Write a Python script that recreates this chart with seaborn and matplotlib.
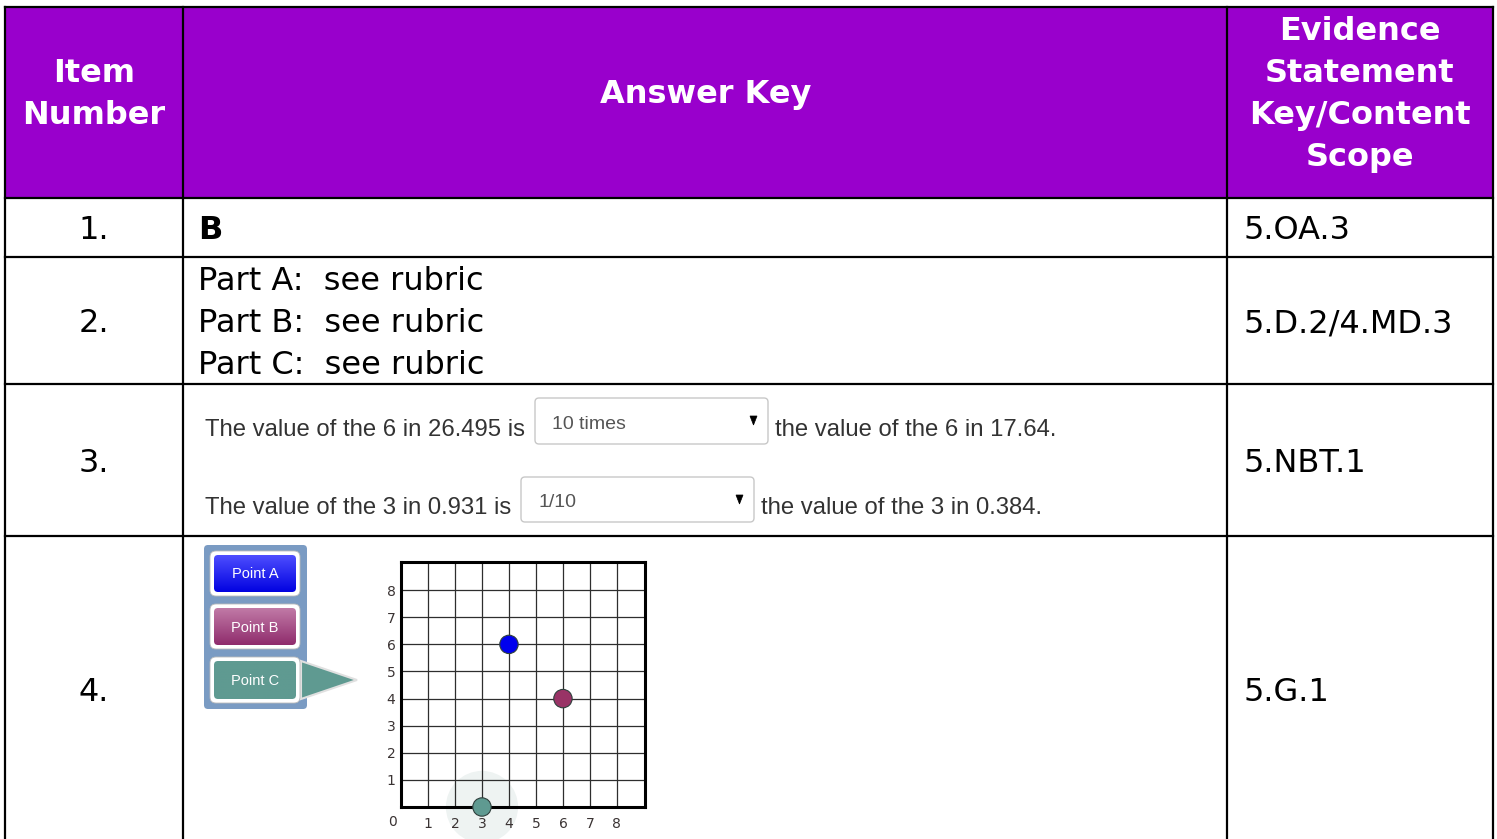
import numpy as np
import pandas as pd
import matplotlib
matplotlib.use("Agg")
import matplotlib.pyplot as plt
from matplotlib.patches import Rectangle, FancyBboxPatch, Polygon
import seaborn as sns

# ---------------- data ----------------
header_item = ["Item", "Number"]
header_answer = "Answer Key"
header_evidence = ["Evidence", "Statement", "Key/Content", "Scope"]
item_numbers = ["1.", "2.", "3.", "4."]
answer_row1 = "B"
answer_row2 = ["Part A:  see rubric", "Part B:  see rubric", "Part C:  see rubric"]
row3_left = ["The value of the 6 in 26.495 is", "The value of the 3 in 0.931 is"]
row3_choice = ["10 times", "1/10"]
row3_right = ["the value of the 6 in 17.64.", "the value of the 3 in 0.384."]
evidence = ["5.OA.3", "5.D.2/4.MD.3", "5.NBT.1", "5.G.1"]

point_labels = ["Point A", "Point B", "Point C"]
point_x = [4, 6, 3]
point_y = [6, 4, 0]
point_colors = ["#0000ee", "#993366", "#5f9a91"]
grid_ticks = [1, 2, 3, 4, 5, 6, 7, 8]

# ---------------- figure ----------------
sns.set_theme(style="white")
plt.rcParams["font.family"] = ["DejaVu Sans"]
W, H = 1497, 839
fig = plt.figure(figsize=(W / 100, H / 100), dpi=100)
ax = fig.add_axes([0, 0, 1, 1])
ax.set_xlim(0, W)
ax.set_ylim(H, 0)
ax.axis("off")

PURPLE = "#9900cc"
LW = 1.6
xL, xC1, xC2, xR = 5, 183, 1227, 1493
yT, yH, y1, y2, y3 = 7, 198, 257, 384, 536

ax.add_patch(Rectangle((xL, yT), xR - xL, yH - yT, facecolor=PURPLE, edgecolor="none", zorder=1))
for x in (xL, xC1, xC2, xR):
    ax.plot([x, x], [yT, H + 5], color="black", lw=LW, zorder=3, solid_capstyle="projecting")
for y in (yT, yH, y1, y2, y3):
    ax.plot([xL, xR], [y, y], color="black", lw=LW, zorder=3, solid_capstyle="projecting")

hfs = 23
for txt, yb in zip(header_item, [82, 124]):
    ax.text(94, yb, txt, ha="center", va="baseline", color="white", fontsize=hfs, fontweight="bold")
ax.text(706, 103, header_answer, ha="center", va="baseline", color="white", fontsize=hfs, fontweight="bold")
for txt, yb in zip(header_evidence, [40, 82, 124, 166]):
    ax.text(1360, yb, txt, ha="center", va="baseline", color="white", fontsize=hfs, fontweight="bold")

bfs = 23
row_base = [239, 332, 472, 701]
for num, ev, yb in zip(item_numbers, evidence, row_base):
    ax.text(94, yb, num, ha="center", va="baseline", color="black", fontsize=bfs)
    ax.text(1243, yb, ev, ha="left", va="baseline", color="black", fontsize=bfs)
ax.text(198, 239, answer_row1, ha="left", va="baseline", color="black", fontsize=bfs, fontweight="bold")
for txt, yb in zip(answer_row2, [290, 332, 374]):
    ax.text(198, yb, txt, ha="left", va="baseline", color="black", fontsize=bfs)

# row 3: sentences with dropdowns
afam = ["Liberation Sans", "DejaVu Sans"]
boxes = [(535, 398, 768, 444), (521, 477, 754, 522)]
sent_base = [436, 514]
choice_base = [429, 507]
for i in range(2):
    bx0, by0, bx1, by1 = boxes[i]
    ax.text(205, sent_base[i], row3_left[i], ha="left", va="baseline", color="#333333",
            fontsize=17.2, family=afam)
    ax.add_patch(FancyBboxPatch((bx0 + 4, by0 + 4), bx1 - bx0 - 8, by1 - by0 - 8,
                                boxstyle="round,pad=4", facecolor="white", edgecolor="#c8c8c8",
                                lw=1.0, zorder=2))
    ax.text(bx0 + 17, choice_base[i], row3_choice[i], ha="left", va="baseline", color="#555555",
            fontsize=14, family=afam, zorder=4)
    ax.add_patch(Polygon([(bx1 - 18, by0 + 18), (bx1 - 11, by0 + 18), (bx1 - 14.5, by0 + 27)],
                         closed=True, facecolor="black", edgecolor="black", lw=0.5, zorder=4))
    ax.text(bx1 + 7, sent_base[i], row3_right[i], ha="left", va="baseline", color="#333333",
            fontsize=17.2, family=afam)

# row 4: button panel
panel = FancyBboxPatch((208, 549), 95, 156, boxstyle="round,pad=4", facecolor="#7a9bc3",
                       edgecolor="none", zorder=2)
ax.add_patch(panel)
tri = Polygon([(301, 661), (357, 680), (301, 699)], closed=True, facecolor="#5f9a91",
              edgecolor="#e0e0e0", lw=1.5, zorder=3)
ax.add_patch(tri)

btn_boxes = [(210, 551, 300, 596), (210, 604, 300, 649), (210, 657, 300, 703)]
btn_grad = [("#5050ff", "#0000e0"), ("#c27ca8", "#8e2a6b"), ("#5f9a91", "#5f9a91")]
for lab, (bx0, by0, bx1, by1), (ctop, cbot) in zip(point_labels, btn_boxes, btn_grad):
    outer = FancyBboxPatch((bx0 + 6, by0 + 6), bx1 - bx0 - 12, by1 - by0 - 12,
                           boxstyle="round,pad=6", facecolor="white", edgecolor="#bbbbbb",
                           lw=0.6, zorder=4)
    ax.add_patch(outer)
    inner = FancyBboxPatch((bx0 + 8, by0 + 8), bx1 - bx0 - 16, by1 - by0 - 16,
                           boxstyle="round,pad=4", facecolor="none", edgecolor="none", zorder=5)
    ax.add_patch(inner)
    c0 = np.array(matplotlib.colors.to_rgb(ctop))
    c1 = np.array(matplotlib.colors.to_rgb(cbot))
    t = np.linspace(0, 1, 64)[:, None, None]
    grad = c0 * (1 - t) + c1 * t
    im = ax.imshow(grad, extent=(bx0 + 3, bx1 - 3, by1 - 3, by0 + 3), origin="upper",
                   aspect="auto", zorder=5, interpolation="bilinear")
    im.set_clip_path(inner)
    ax.text((bx0 + bx1) / 2, (by0 + by1) / 2 + 5, lab, ha="center", va="baseline",
            color="white", fontsize=10.5, family=afam, zorder=6)
ax.set_xlim(0, W)
ax.set_ylim(H, 0)

# row 4: coordinate grid (inset axes)
gx0, gx1, gy0, gy1 = 401, 645, 562, 807
gax = fig.add_axes([gx0 / W, (H - gy1) / H, (gx1 - gx0) / W, (gy1 - gy0) / H])
lim = 9.04
gax.set_xlim(0, lim)
gax.set_ylim(0, lim)
gax.set_facecolor("white")
gax.set_xticks(grid_ticks)
gax.set_yticks(grid_ticks)
gax.set_xticklabels([str(v) for v in grid_ticks])
gax.set_yticklabels([str(v) for v in grid_ticks])
gax.tick_params(length=0, labelsize=10, labelcolor="#3a3333", pad=4)
gax.tick_params(axis="x", pad=7)
gax.grid(True, color="#2e2e2e", lw=0.9)
gax.set_axisbelow(True)
for sp in gax.spines.values():
    sp.set_visible(True)
    sp.set_color("black")
    sp.set_linewidth(2.2)
    sp.set_zorder(4)
gax.text(-0.3, -0.55, "0", ha="center", va="center", fontsize=10, color="#3a3333", clip_on=False)

df = pd.DataFrame({"label": point_labels, "x": point_x, "y": point_y})
halo = df[df["label"] == "Point C"]
gax.scatter(halo["x"], halo["y"], s=2700, color="#eef3f2", edgecolors="none", zorder=0.5,
            clip_on=False)
sns.scatterplot(data=df, x="x", y="y", hue="label", palette=dict(zip(point_labels, point_colors)),
                s=175, edgecolor="#2f3f3c", linewidth=0.8, legend=False, ax=gax, zorder=6,
                clip_on=False)
gax.set_xlabel("")
gax.set_ylabel("")

fig.savefig("out.png", dpi=100)
